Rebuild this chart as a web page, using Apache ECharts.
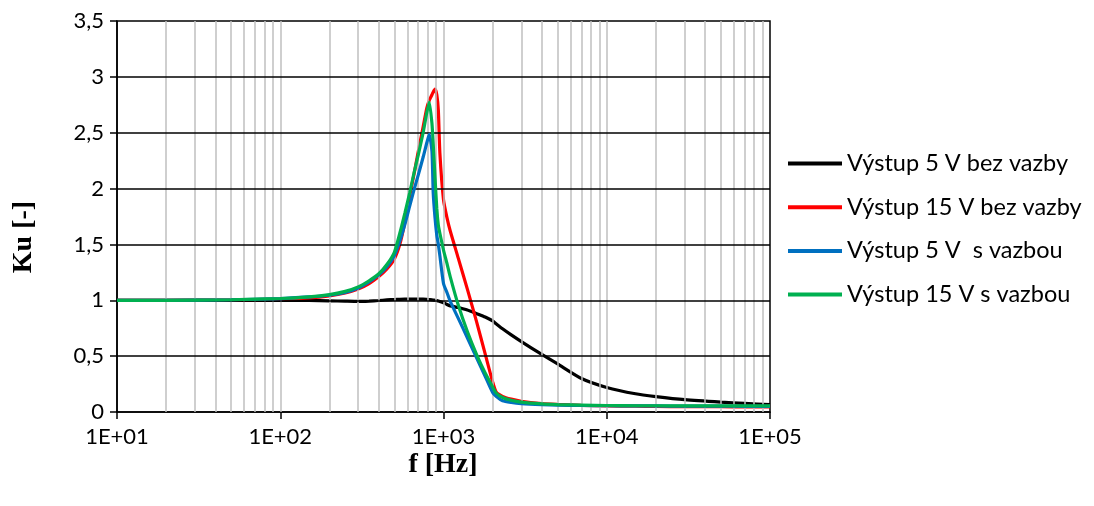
<!DOCTYPE html>
<html>
<head>
<meta charset="utf-8">
<script src="https://cdn.jsdelivr.net/npm/echarts@6/dist/echarts.min.js"></script>
<style>
  html, body { margin: 0; padding: 0; background: #ffffff; }
  #chart { width: 1094px; height: 506px; }
</style>
</head>
<body>
<div id="chart"></div>
<script>
// Frequency points [Hz] shared by all four measured curves
const freq = [10, 20, 50, 100, 150, 200, 250, 300, 350, 400, 450, 500, 540, 580, 620, 660, 700, 750, 790, 818,
  850, 865, 887, 910, 930, 950, 1000, 1050, 1100, 1230, 1400, 1600, 1800, 2000, 2100, 2300, 2600, 3000,
  4000, 5000, 7000, 10000, 15000, 20000, 30000, 50000, 70000, 100000];

// Voltage gain Ku [-] for each output
const ku5Free = [1.0, 1.0, 1.0, 1.0, 0.998, 0.995, 0.992, 0.99, 0.993, 0.998, 1.003, 1.007, 1.009, 1.01, 1.01, 1.01, 1.01, 1.01, 1.008, 1.006,
  1.004, 1.002, 1.0, 0.997, 0.994, 0.99, 0.978, 0.962, 0.95, 0.935, 0.913, 0.88, 0.85, 0.815, 0.79, 0.745, 0.69, 0.63,
  0.515, 0.43, 0.3, 0.22, 0.163, 0.138, 0.11, 0.088, 0.077, 0.066];
const ku15Free = [1.0, 1.0, 1.003, 1.01, 1.022, 1.04, 1.065, 1.1, 1.15, 1.21, 1.28, 1.37, 1.5, 1.7, 1.93, 2.13, 2.33, 2.55, 2.72, 2.79,
  2.84, 2.865, 2.89, 2.84, 2.7, 2.32, 1.9, 1.74, 1.62, 1.38, 1.1, 0.8, 0.52, 0.27, 0.18, 0.14, 0.115, 0.095,
  0.075, 0.068, 0.06, 0.055, 0.052, 0.05, 0.048, 0.047, 0.046, 0.045];
const ku5Fb = [1.0, 1.0, 1.005, 1.015, 1.03, 1.045, 1.07, 1.11, 1.165, 1.225, 1.3, 1.4, 1.53, 1.68, 1.84, 1.99, 2.12, 2.28, 2.41, 2.485,
  2.33, 1.96, 1.74, 1.58, 1.5, 1.4, 1.15, 1.07, 0.99, 0.84, 0.665, 0.48, 0.32, 0.175, 0.14, 0.1, 0.085, 0.075,
  0.066, 0.062, 0.058, 0.056, 0.055, 0.054, 0.053, 0.052, 0.051, 0.05];
const ku15Fb = [1.0, 1.0, 1.005, 1.016, 1.03, 1.05, 1.08, 1.12, 1.175, 1.235, 1.32, 1.43, 1.6, 1.78, 1.96, 2.14, 2.3, 2.5, 2.68, 2.775,
  2.58, 2.4, 2.1, 1.82, 1.67, 1.6, 1.45, 1.33, 1.21, 0.96, 0.72, 0.51, 0.35, 0.225, 0.17, 0.13, 0.105, 0.088,
  0.072, 0.066, 0.062, 0.058, 0.056, 0.056, 0.055, 0.055, 0.055, 0.055];

const seriesNames = ['Výstup 5 V bez vazby', 'Výstup 15 V bez vazby', 'Výstup 5 V  s vazbou', 'Výstup 15 V s vazbou'];
const seriesColors = ['#000000', '#FF0000', '#0070C0', '#00B050'];
const seriesValues = [ku5Free, ku15Free, ku5Fb, ku15Fb];

// Logarithmic grid: 1..9 × each decade, and horizontal lines every 0.5
const decades = [10, 100, 1000, 10000];
const yGrid = [0.5, 1, 1.5, 2, 2.5, 3];

const vLines = [];
decades.forEach(d => { for (let m = 1; m <= 9; m++) { const v = d * m; if (v > 10) vLines.push({ xAxis: v }); } });
const hLines = yGrid.map(v => ({ yAxis: v }));

const chart = echarts.init(document.getElementById('chart'), null, { renderer: 'canvas' });

const labelFont = 'Lato, "Liberation Sans", sans-serif';
const titleFont = 'bold 28px "Liberation Serif", "Times New Roman", serif';

const lineSeries = seriesNames.map((name, i) => ({
  name: name,
  type: 'line',
  data: freq.map((f, j) => [f, seriesValues[i][j]]),
  showSymbol: false,
  symbol: 'none',
  smooth: 0.2,
  lineStyle: { color: seriesColors[i], width: 3.2 },
  itemStyle: { color: seriesColors[i] },
  z: 3 + i
}));

const gridSeries = {
  name: 'grid',
  type: 'line',
  data: [],
  silent: true,
  z: 1,
  markLine: {
    silent: true,
    symbol: ['none', 'none'],
    label: { show: false },
    animation: false,
    data: [
      ...vLines.map(p => Object.assign({ lineStyle: { color: '#BFBFBF', width: 1.5, type: 'solid' } }, p)),
      ...hLines.map(p => Object.assign({ lineStyle: { color: '#000000', width: 1.5, type: 'solid' } }, p))
    ]
  }
};

chart.setOption({
  animation: false,
  backgroundColor: '#ffffff',
  grid: {
    left: 117, right: 324, top: 21, bottom: 94,
    show: true, borderColor: '#000000', borderWidth: 1.5, backgroundColor: 'transparent'
  },
  xAxis: {
    type: 'log',
    logBase: 10,
    min: 10,
    max: 100000,
    axisLine: { lineStyle: { color: '#000000', width: 1.5 } },
    axisTick: { show: true, length: 7, lineStyle: { color: '#000000', width: 1.5 } },
    splitLine: { show: false },
    minorTick: { show: false },
    axisLabel: {
      margin: 14,
      color: '#000000',
      fontFamily: labelFont,
      fontSize: 22,
      formatter: v => '1E+' + String(Math.round(Math.log10(v))).padStart(2, '0')
    }
  },
  yAxis: {
    type: 'value',
    min: 0,
    max: 3.5,
    interval: 0.5,
    axisLine: { show: true, lineStyle: { color: '#000000', width: 1.5 } },
    axisTick: { show: true, length: 7, lineStyle: { color: '#000000', width: 1.5 } },
    splitLine: { show: false },
    axisLabel: {
      margin: 13,
      color: '#000000',
      fontFamily: labelFont,
      fontSize: 22,
      formatter: v => String(v).replace('.', ',')
    }
  },
  legend: {
    data: seriesNames,
    orient: 'vertical',
    left: 788,
    top: 151,
    padding: 0,
    icon: 'rect',
    itemWidth: 54,
    itemHeight: 4,
    itemGap: 18.7,
    textStyle: { color: '#000000', fontFamily: labelFont, fontSize: 23.5, lineHeight: 25 }
  },
  graphic: [
    {
      type: 'text',
      x: 24, y: 237,
      rotation: Math.PI / 2,
      style: {
        text: 'Ku [-]',
        fill: '#000000',
        font: titleFont,
        textAlign: 'center',
        textVerticalAlign: 'middle'
      }
    },
    {
      type: 'text',
      x: 443, y: 465,
      style: {
        text: 'f [Hz]',
        fill: '#000000',
        font: titleFont,
        textAlign: 'center',
        textVerticalAlign: 'middle'
      }
    }
  ],
  series: [gridSeries, ...lineSeries]
});
</script>
</body>
</html>
